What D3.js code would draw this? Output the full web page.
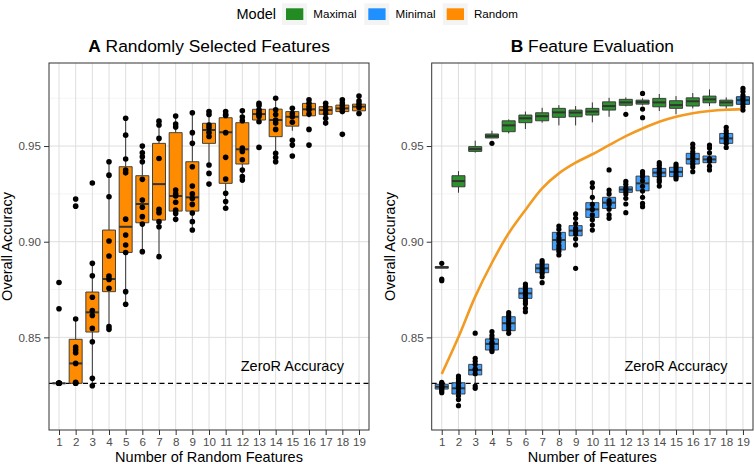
<!DOCTYPE html>
<html lang="en">
<head>
<meta charset="UTF-8">
<title>Feature selection accuracy</title>
<style>
  body { margin: 0; background: #fff; }
  svg { font-family: "Liberation Sans", Arial, Helvetica, sans-serif; }
</style>
</head>
<body>
<div id="chart"></div>
<script src="https://d3js.org/d3.v7.min.js"></script>
<script>
const features = [1, 2, 3, 4, 5, 6, 7, 8, 9, 10, 11, 12, 13, 14, 15, 16, 17, 18, 19]
const yTicks = [0.85, 0.90, 0.95]
const yMinor = [0.825, 0.875, 0.925, 0.975]
const zeroR = 0.826

// A: randomly selected features
const randomLow = [0.826, 0.826, 0.8247, 0.8542, 0.8673, 0.8948, 0.8922, 0.9113, 0.9061, 0.9401, 0.9175, 0.9322, 0.9627, 0.9418, 0.958, 0.965, 0.9619, 0.9675, 0.967]
const randomQ1 = [0.826, 0.826, 0.8528, 0.8739, 0.8944, 0.9099, 0.9113, 0.916, 0.916, 0.9514, 0.9305, 0.9406, 0.9636, 0.9549, 0.9604, 0.9658, 0.9666, 0.968, 0.9684]
const randomMedian = [0.826, 0.8364, 0.8631, 0.8805, 0.9078, 0.9197, 0.9301, 0.9239, 0.9232, 0.9584, 0.9572, 0.9483, 0.9667, 0.9636, 0.9653, 0.9692, 0.9688, 0.9697, 0.9706]
const randomQ3 = [0.826, 0.849, 0.8737, 0.9061, 0.9392, 0.9345, 0.9514, 0.957, 0.9418, 0.9619, 0.9648, 0.9622, 0.9692, 0.9693, 0.968, 0.9723, 0.9706, 0.9714, 0.9719]
const randomHigh = [0.826, 0.8596, 0.8887, 0.9418, 0.9645, 0.95, 0.963, 0.9657, 0.9674, 0.968, 0.968, 0.9684, 0.9723, 0.975, 0.9697, 0.9742, 0.9723, 0.9742, 0.9761]
const randomRuns = [
    [0.8787, 0.865, 0.826, 0.826, 0.826, 0.826, 0.826, 0.826, 0.826, 0.826],
    [0.9223, 0.9186, 0.8596, 0.845, 0.8435, 0.842, 0.8364, 0.8265, 0.826, 0.826],
    [0.9307, 0.8887, 0.8822, 0.871, 0.864, 0.8615, 0.8547, 0.8477, 0.8286, 0.8247],
    [0.9418, 0.9348, 0.9235, 0.9004, 0.8925, 0.882, 0.8803, 0.8757, 0.8556, 0.8542],
    [0.9645, 0.9557, 0.9432, 0.9375, 0.936, 0.9118, 0.9035, 0.8983, 0.8944, 0.8739, 0.8673],
    [0.95, 0.9465, 0.9444, 0.9418, 0.9326, 0.9218, 0.918, 0.9131, 0.9092, 0.8948],
    [0.963, 0.961, 0.954, 0.9435, 0.9169, 0.9152, 0.9105, 0.9078, 0.8922],
    [0.9657, 0.9615, 0.96, 0.927, 0.925, 0.9239, 0.9206, 0.9165, 0.9148, 0.9117],
    [0.9674, 0.957, 0.9514, 0.9392, 0.9291, 0.925, 0.9226, 0.9195, 0.915, 0.9105, 0.9061],
    [0.968, 0.9665, 0.961, 0.9595, 0.957, 0.955, 0.9401, 0.9357, 0.9301],
    [0.968, 0.9665, 0.966, 0.957, 0.9441, 0.9328, 0.9253, 0.921, 0.9175],
    [0.9684, 0.9652, 0.9632, 0.949, 0.9472, 0.9428, 0.9375, 0.934, 0.9322],
    [0.9723, 0.9712, 0.969, 0.9676, 0.9665, 0.9655, 0.9627, 0.9493],
    [0.975, 0.969, 0.9665, 0.9636, 0.962, 0.9587, 0.9462, 0.944, 0.9418],
    [0.9697, 0.967, 0.9653, 0.9624, 0.953, 0.9505, 0.9448],
    [0.9742, 0.9723, 0.9705, 0.969, 0.9667, 0.9587, 0.9505],
    [0.9723, 0.9706, 0.9688, 0.967, 0.9645, 0.962],
    [0.9742, 0.9725, 0.971, 0.9695, 0.968, 0.9561],
    [0.9761, 0.9735, 0.9719, 0.9702, 0.967]
]

// B: feature evaluation, maximal model
const maximalLow = [0.8866, 0.9256, 0.9466, 0.9542, 0.9566, 0.9589, 0.9622, 0.9608, 0.9608, 0.9624, 0.9653, 0.9707, 0.9712, 0.9683, 0.9666, 0.9697, 0.9709, 0.9697, 0.9705]
const maximalQ1 = [0.8862, 0.9287, 0.9472, 0.9542, 0.9575, 0.9622, 0.9632, 0.965, 0.9653, 0.9662, 0.9688, 0.9713, 0.9719, 0.9705, 0.9697, 0.9709, 0.9726, 0.971, 0.972]
const maximalMedian = [0.8866, 0.9317, 0.9484, 0.9552, 0.9608, 0.9645, 0.9656, 0.9676, 0.9675, 0.968, 0.9709, 0.9728, 0.973, 0.9728, 0.9714, 0.9734, 0.9744, 0.9728, 0.9738]
const maximalQ3 = [0.887, 0.9345, 0.9497, 0.9563, 0.9632, 0.9662, 0.9674, 0.9697, 0.9688, 0.9697, 0.9731, 0.9744, 0.974, 0.9749, 0.9737, 0.9752, 0.9761, 0.974, 0.9755]
const maximalHigh = [0.887, 0.9369, 0.9528, 0.958, 0.9639, 0.968, 0.97, 0.9714, 0.9709, 0.9728, 0.9752, 0.9754, 0.9749, 0.9772, 0.9761, 0.9777, 0.9796, 0.9754, 0.9775]
const maximalOutliers = [
    [0.8887, 0.8804, 0.8796], [], [], [0.9514], [], [], [], [], [], [],
    [], [0.9666], [0.9775, 0.9693, 0.9648], [], [], [], [], [], []
]

// B: feature evaluation, minimal model
const minimalLow = [0.8211, 0.8165, 0.8234, 0.8426, 0.8521, 0.8676, 0.8817, 0.8931, 0.8983, 0.9087, 0.914, 0.9245, 0.9232, 0.9314, 0.9328, 0.9366, 0.9375, 0.9493, 0.9688]
const minimalQ1 = [0.823, 0.8204, 0.8304, 0.8434, 0.8535, 0.8704, 0.8838, 0.8957, 0.9031, 0.9127, 0.9174, 0.9258, 0.9266, 0.934, 0.934, 0.9406, 0.9413, 0.9514, 0.9718]
const minimalMedian = [0.8242, 0.8234, 0.833, 0.8466, 0.8574, 0.873, 0.8861, 0.9009, 0.9058, 0.9169, 0.9204, 0.9273, 0.9305, 0.9361, 0.9365, 0.9432, 0.943, 0.954, 0.974]
const minimalQ3 = [0.8255, 0.8263, 0.8359, 0.8492, 0.8608, 0.8757, 0.8883, 0.9049, 0.9084, 0.9204, 0.9232, 0.9287, 0.9343, 0.9383, 0.9389, 0.9462, 0.9448, 0.9566, 0.9758]
const minimalHigh = [0.8265, 0.8298, 0.8391, 0.853, 0.8629, 0.8779, 0.8901, 0.9082, 0.9145, 0.9287, 0.927, 0.9315, 0.9366, 0.9413, 0.9406, 0.951, 0.9505, 0.9598, 0.9801]
const minimalRuns = [
    [0.8265, 0.826, 0.8252, 0.8245, 0.824, 0.8235, 0.8228, 0.822, 0.8211],
    [0.8298, 0.8285, 0.827, 0.826, 0.8245, 0.8234, 0.8215, 0.8195, 0.8175, 0.8143],
    [0.8522, 0.8391, 0.8375, 0.8358, 0.8335, 0.833, 0.831, 0.8246, 0.8234],
    [0.853, 0.851, 0.8495, 0.8475, 0.8466, 0.845, 0.8435, 0.8426],
    [0.8629, 0.8615, 0.86, 0.8585, 0.857, 0.8555, 0.854, 0.8521],
    [0.8779, 0.8765, 0.875, 0.8735, 0.872, 0.8705, 0.869, 0.8676, 0.8652, 0.8634],
    [0.8901, 0.889, 0.8875, 0.886, 0.8848, 0.8835, 0.8817, 0.8786],
    [0.9082, 0.9065, 0.904, 0.902, 0.9, 0.898, 0.8965, 0.895, 0.8931],
    [0.9145, 0.9122, 0.9095, 0.907, 0.9055, 0.904, 0.9015, 0.8983, 0.8861],
    [0.9308, 0.9284, 0.9232, 0.9195, 0.9169, 0.914, 0.9115, 0.9087, 0.9061],
    [0.9375, 0.927, 0.925, 0.9215, 0.9195, 0.917, 0.914, 0.9122],
    [0.9315, 0.93, 0.928, 0.9265, 0.925, 0.9227, 0.9197, 0.9152],
    [0.9366, 0.9355, 0.934, 0.9318, 0.929, 0.9265, 0.9232, 0.92, 0.9183],
    [0.9413, 0.94, 0.9385, 0.937, 0.9355, 0.934, 0.9325, 0.9314, 0.9291],
    [0.9406, 0.9395, 0.938, 0.9365, 0.935, 0.9338, 0.9328],
    [0.951, 0.949, 0.947, 0.9455, 0.944, 0.942, 0.9405, 0.939, 0.9366],
    [0.9505, 0.949, 0.9465, 0.9435, 0.942, 0.9395, 0.9375],
    [0.9598, 0.958, 0.9565, 0.955, 0.953, 0.9515, 0.9493],
    [0.9801, 0.9785, 0.9765, 0.975, 0.9735, 0.972, 0.9705, 0.9688]
]

// smoothed mean accuracy of the random model, drawn over panel B
const randomSmooth = [0.8309, 0.8502, 0.8713, 0.889, 0.9044, 0.9166, 0.9279, 0.9357, 0.9413, 0.9457, 0.9505, 0.9552, 0.9592, 0.9627, 0.9653, 0.9671, 0.9683, 0.969, 0.9693]

const legendKeys = ['Maximal', 'Minimal', 'Random']
const colors = { Maximal: '#228B22', Minimal: '#1E90FF', Random: '#FF8C00' }

const width = 755
const height = 464
const plotTop = 63
const plotBottom = 430

const svg = d3.select('#chart')
    .append('svg')
    .attr('width', width)
    .attr('height', height)

const y = d3.scaleLinear()
    .domain([0.8016, 0.9934])
    .range([plotBottom, plotTop])

function stats(lo, q1, med, q3, hi) {
    return features.map((f, i) => ({ f, lo: lo[i], q1: q1[i], med: med[i], q3: q3[i], hi: hi[i] }))
}

function panel(x0, x1, title, letter, xTitle) {
    const x = d3.scalePoint().domain(features).range([x0, x1]).padding(0.6)
    const g = svg.append('g')

    g.selectAll('.minor').data(yMinor).join('line')
        .attr('x1', x0).attr('x2', x1)
        .attr('y1', d => y(d)).attr('y2', d => y(d))
        .attr('stroke', '#efefef').attr('stroke-width', 0.6)
    g.selectAll('.major').data(yTicks).join('line')
        .attr('x1', x0).attr('x2', x1)
        .attr('y1', d => y(d)).attr('y2', d => y(d))
        .attr('stroke', '#dedede').attr('stroke-width', 1)
    g.selectAll('.vgrid').data(features).join('line')
        .attr('x1', d => x(d)).attr('x2', d => x(d))
        .attr('y1', plotTop).attr('y2', plotBottom)
        .attr('stroke', '#dedede').attr('stroke-width', 1)

    const yAxis = svg.append('g')
        .attr('transform', `translate(${x0},0)`)
        .call(d3.axisLeft(y).tickValues(yTicks).tickFormat(d3.format('.2f')).tickSize(5).tickPadding(3))
    const xAxis = svg.append('g')
        .attr('transform', `translate(0,${plotBottom})`)
        .call(d3.axisBottom(x).tickSize(5).tickPadding(2.5))
    ;[yAxis, xAxis].forEach(a => {
        a.select('.domain').remove()
        a.selectAll('line').attr('stroke', '#333')
        a.selectAll('text').attr('fill', '#4d4d4d').style('font-size', '11.6px')
    })

    const cx = (x0 + x1) / 2
    const t = svg.append('text')
        .attr('x', cx).attr('y', 51.5)
        .attr('text-anchor', 'middle')
        .style('font-size', '17.4px')
    t.append('tspan').attr('font-weight', 'bold').text(letter)
    t.append('tspan').text(' ' + title)

    svg.append('text')
        .attr('x', cx).attr('y', 461.5)
        .attr('text-anchor', 'middle')
        .style('font-size', '14.5px')
        .text(xTitle)

    svg.append('text')
        .attr('transform', `translate(${x0 - 37},${(plotTop + plotBottom) / 2}) rotate(-90)`)
        .attr('text-anchor', 'middle')
        .style('font-size', '14.5px')
        .text('Overall Accuracy')

    return { g, x, x0, x1 }
}

function boxes(p, data, fill, opacity) {
    const bw = p.x.step() * 0.78
    const b = p.g.append('g').selectAll('g').data(data).join('g')
    b.append('line')
        .attr('x1', d => p.x(d.f)).attr('x2', d => p.x(d.f))
        .attr('y1', d => y(d.hi)).attr('y2', d => y(d.q3))
        .attr('stroke', '#333').attr('stroke-width', 1)
    b.append('line')
        .attr('x1', d => p.x(d.f)).attr('x2', d => p.x(d.f))
        .attr('y1', d => y(d.q1)).attr('y2', d => y(d.lo))
        .attr('stroke', '#333').attr('stroke-width', 1)
    b.append('path')
        .attr('d', d => `M${p.x(d.f) - bw / 2},${y(d.q3)}H${p.x(d.f) + bw / 2}V${y(d.q1)}H${p.x(d.f) - bw / 2}Z`)
        .attr('fill', fill).attr('fill-opacity', opacity)
        .attr('stroke', '#333').attr('stroke-width', 0.9)
    b.append('line')
        .attr('x1', d => p.x(d.f) - bw / 2).attr('x2', d => p.x(d.f) + bw / 2)
        .attr('y1', d => y(d.med)).attr('y2', d => y(d.med))
        .attr('stroke', '#333').attr('stroke-width', 2)
}

function dots(p, runs, r) {
    const pts = runs.flatMap((vals, i) => vals.map(v => ({ f: features[i], v })))
    p.g.append('g').selectAll('circle').data(pts).join('circle')
        .attr('cx', d => p.x(d.f))
        .attr('cy', d => y(d.v))
        .attr('r', r)
        .attr('fill', '#000')
}

function zeroLine(p) {
    p.g.append('line')
        .attr('x1', p.x0).attr('x2', p.x1)
        .attr('y1', y(zeroR)).attr('y2', y(zeroR))
        .attr('stroke', '#000').attr('stroke-width', 1.2)
        .attr('stroke-dasharray', '5,3.5')
    p.g.append('text')
        .attr('x', p.x(15)).attr('y', y(0.835) + 5)
        .attr('text-anchor', 'middle')
        .style('font-size', '14.5px')
        .text('ZeroR Accuracy')
}

function frame(p) {
    svg.append('rect')
        .attr('x', p.x0).attr('y', plotTop)
        .attr('width', p.x1 - p.x0).attr('height', plotBottom - plotTop)
        .attr('fill', 'none').attr('stroke', '#333').attr('stroke-width', 1)
}

// panel A
const pA = panel(49, 369, 'Randomly Selected Features', 'A', 'Number of Random Features')
zeroLine(pA)
boxes(pA, stats(randomLow, randomQ1, randomMedian, randomQ3, randomHigh), colors.Random, 1)
dots(pA, randomRuns, 2.8)
frame(pA)

// panel B
const pB = panel(431.7, 753, 'Feature Evaluation', 'B', 'Number of Features')
zeroLine(pB)
pB.g.append('path')
    .datum(randomSmooth)
    .attr('d', d3.line().x((d, i) => pB.x(features[i])).y(d => y(d)).curve(d3.curveCatmullRom))
    .attr('fill', 'none')
    .attr('stroke', '#F39A22')
    .attr('stroke-width', 2.6)
boxes(pB, stats(maximalLow, maximalQ1, maximalMedian, maximalQ3, maximalHigh), colors.Maximal, 0.95)
dots(pB, maximalOutliers, 2.6)
boxes(pB, stats(minimalLow, minimalQ1, minimalMedian, minimalQ3, minimalHigh), colors.Minimal, 0.85)
dots(pB, minimalRuns, 2.6)
frame(pB)

// legend
const legend = svg.append('g')
legend.append('text')
    .attr('x', 236.5).attr('y', 19)
    .style('font-size', '14.5px')
    .text('Model')
const keyX = [286, 368.3, 446.7]
const item = legend.selectAll('.key').data(legendKeys).join('g')
    .attr('transform', (d, i) => `translate(${keyX[i]},0)`)
item.append('rect')
    .attr('x', -4).attr('y', 3.3).attr('width', 25).attr('height', 21.7)
    .attr('fill', '#f4f4f4')
item.append('rect')
    .attr('x', 0).attr('y', 8.3).attr('width', 17.3).attr('height', 11.7)
    .attr('fill', d => colors[d])
item.append('text')
    .attr('x', 27.3).attr('y', 18)
    .style('font-size', '11.6px')
    .text(d => d)
</script>
</body>
</html>
